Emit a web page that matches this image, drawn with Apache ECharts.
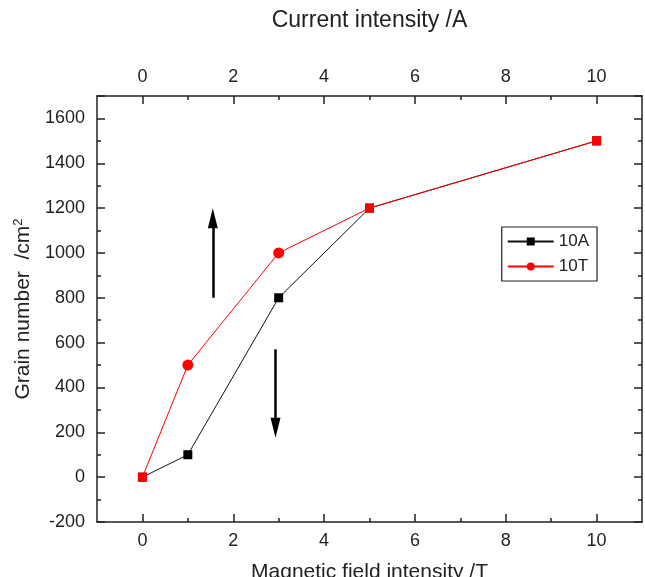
<!DOCTYPE html>
<html><head><meta charset="utf-8">
<script src="https://cdn.jsdelivr.net/npm/echarts@6/dist/echarts.min.js"></script>
<style>html,body{margin:0;padding:0;background:#fff}#c{width:645px;height:577px}</style>
</head><body><div id="c"></div>
<script>
const xValues = [0, 1, 3, 5, 10];
const series10A = [0, 100, 800, 1200, 1500];
const series10T = [0, 500, 1000, 1200, 1500];
const xMajorTicks = [0, 2, 4, 6, 8, 10];
const xMinorTicks = [1, 3, 5, 7, 9];
const upArrow = [[1.55, 800], [1.55, 1155]];
const downArrow = [[2.93, 570], [2.93, 220]];

const FONT = '"Liberation Sans", Arial, Helvetica, sans-serif';
const axisColor = '#222';
const toPairs = vals => xValues.map((x, i) => [x, vals[i]]);

function xMajor(pos, name, gap, fontSize) {
  return {
    type: 'value', position: pos, min: -1, max: 11,
    name: name, nameLocation: 'middle', nameGap: gap,
    nameTextStyle: { fontFamily: FONT, fontSize: fontSize, color: '#222' },
    axisLine: { show: true, onZero: false, lineStyle: { color: axisColor, width: 1.5 } },
    axisTick: { show: true, inside: true, length: 8, customValues: xMajorTicks, lineStyle: { color: axisColor, width: 1.5 } },
    axisLabel: { show: true, fontFamily: FONT, fontSize: 18, color: '#222', margin: 10, customValues: xMajorTicks },
    splitLine: { show: false }
  };
}
function xMinor(pos) {
  return {
    type: 'value', position: pos, min: -1, max: 11,
    axisLine: { show: false, onZero: false },
    axisTick: { show: true, inside: true, length: 4, customValues: xMinorTicks, lineStyle: { color: axisColor, width: 1.5 } },
    axisLabel: { show: false },
    splitLine: { show: false }
  };
}
function yAxisCfg(pos, showLabel) {
  const cfg = {
    type: 'value', position: pos, min: -200, max: 1700, interval: 200,
    axisLine: { show: true, onZero: false, lineStyle: { color: axisColor, width: 1.5 } },
    axisTick: { show: true, inside: true, length: 8, lineStyle: { color: axisColor, width: 1.5 } },
    minorTick: { show: true, splitNumber: 2, length: 4, lineStyle: { color: axisColor, width: 1.5 } },
    axisLabel: { show: showLabel, fontFamily: FONT, fontSize: 18, color: '#222', margin: 12,
      formatter: v => v > 1600 ? '' : String(v) },
    splitLine: { show: false }
  };
  if (showLabel) {
    cfg.name = '{a|Grain number  /cm}{s|2}';
    cfg.nameLocation = 'middle';
    cfg.nameGap = 62;
    cfg.nameTextStyle = { fontFamily: FONT, fontSize: 21, color: '#222',
      rich: { a: { fontFamily: FONT, fontSize: 21, color: '#222' },
              s: { fontFamily: FONT, fontSize: 13, color: '#222', verticalAlign: 'top', padding: [0, 0, 10, 0] } } };
  }
  return cfg;
}

const chart = echarts.init(document.getElementById('c'), null, { renderer: 'canvas' });
chart.setOption({
  animation: false,
  backgroundColor: '#fff',
  grid: { left: 97, right: 3, top: 96, bottom: 55, containLabel: false, outerBoundsMode: 'none' },
  xAxis: [
    xMajor('bottom', 'Magnetic field intensity /T', 40, 21),
    xMajor('top', 'Current intensity /A', 64, 23),
    xMinor('bottom'),
    xMinor('top')
  ],
  yAxis: [yAxisCfg('left', true), yAxisCfg('right', false)],
  legend: {
    right: 48, top: 227, orient: 'vertical',
    itemWidth: 46, itemHeight: 10, itemGap: 8,
    padding: [6, 8, 6, 5],
    borderColor: '#222', borderWidth: 1.2,
    textStyle: { fontFamily: FONT, fontSize: 17, color: '#222' },
    data: ['10A', '10T']
  },
  series: [
    {
      name: '10A', type: 'line', data: toPairs(series10A),
      symbol: 'rect', symbolSize: 9,
      lineStyle: { color: '#111', width: 1 },
      itemStyle: { color: '#000' },
      z: 2
    },
    {
      name: '10T', type: 'line', data: toPairs(series10T),
      symbol: (val, params) => series10A[params.dataIndex] === series10T[params.dataIndex] ? 'rect' : 'circle',
      symbolSize: (val, params) => series10A[params.dataIndex] === series10T[params.dataIndex] ? 9 : 11,
      lineStyle: { color: '#ff0000', width: 1 },
      itemStyle: { color: '#ff0000' },
      z: 3,
      markLine: {
        silent: true, animation: false,
        symbol: ['none', 'triangle'], symbolSize: [10, 20],
        lineStyle: { color: '#000', width: 2.5, type: 'solid' },
        label: { show: false },
        data: [
          [{ coord: upArrow[0] }, { coord: upArrow[1] }],
          [{ coord: downArrow[0] }, { coord: downArrow[1] }]
        ]
      }
    }
  ]
});
</script></body></html>
